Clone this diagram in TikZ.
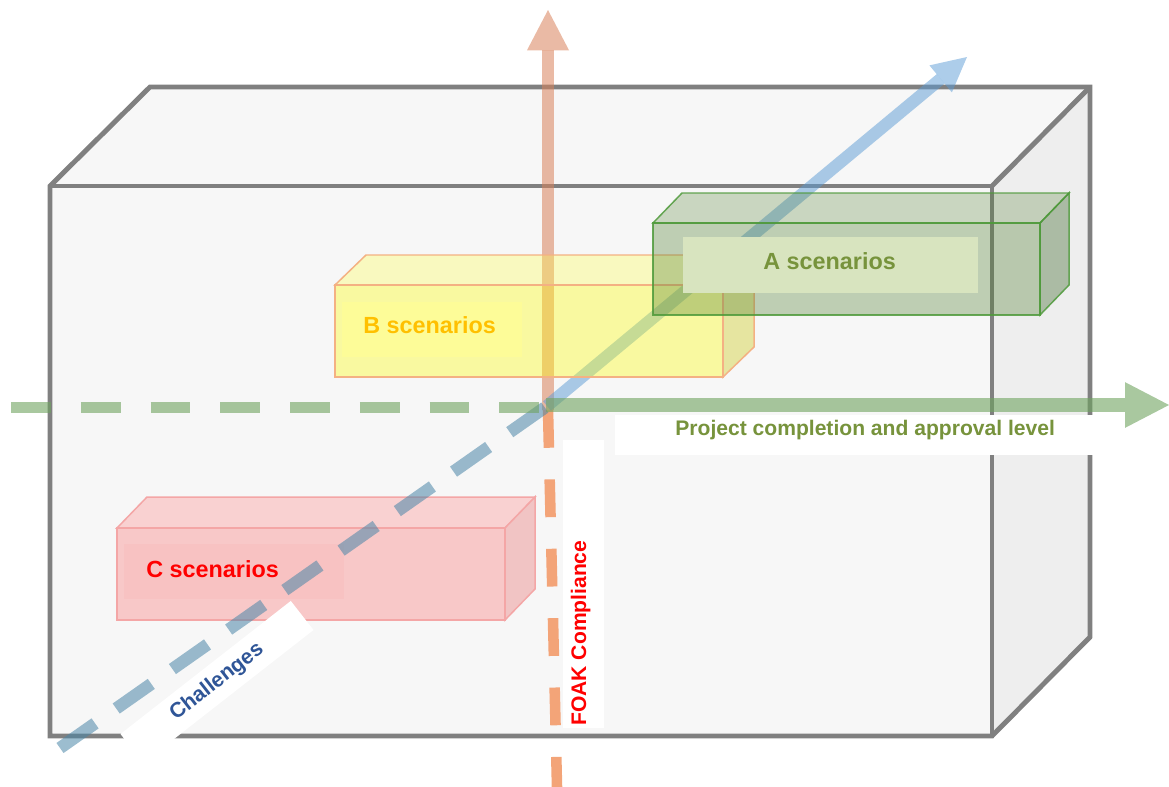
\documentclass[tikz,border=0pt]{standalone}
\usepackage{fontspec}
\setmainfont{Liberation Sans}
\usetikzlibrary{arrows.meta}
\definecolor{boxline}{HTML}{808080}
\definecolor{boxfront}{HTML}{F7F7F7}
\definecolor{boxside}{HTML}{EEEEEE}
\definecolor{orangeax}{HTML}{D9825B}
\definecolor{orangedash}{HTML}{F3A478}
\definecolor{greenax}{HTML}{6FA35F}
\definecolor{blueax}{HTML}{5B9BD5}
\definecolor{bluedash}{HTML}{4A86A8}
\definecolor{yel}{HTML}{FFFF00}
\definecolor{yelside}{HTML}{C8C400}
\definecolor{yeltop}{HTML}{FFFF40}
\definecolor{yelline}{HTML}{F4B183}
\definecolor{yellabel}{HTML}{FDFC98}
\definecolor{btext}{HTML}{FFC000}
\definecolor{grn}{HTML}{548235}
\definecolor{grnside}{HTML}{476F35}
\definecolor{grnline}{HTML}{4E9A3A}
\definecolor{grnlabel}{HTML}{D8E4BF}
\definecolor{atext}{HTML}{77933C}
\definecolor{redfront}{HTML}{F8C8C8}
\definecolor{redtop}{HTML}{F9D1D1}
\definecolor{redside}{HTML}{F1C4C4}
\definecolor{redline}{HTML}{F4A6A6}
\definecolor{redlabel}{HTML}{F8C2C2}
\definecolor{chtext}{HTML}{2F5597}
\begin{document}
\begin{tikzpicture}[x=0.02cm,y=-0.02cm,
  bigsty/.style={draw=boxline, line width=2.8pt, line join=miter},
  orangesty/.style={draw=orangeax, opacity=0.55, line width=7pt, -{Triangle[length=23pt,width=24pt,line width=0pt]}},
  orangedashsty/.style={draw=orangedash, line width=6pt, dash pattern=on 21.5pt off 18pt},
  greensty/.style={draw=greenax, opacity=0.6, line width=8.5pt, -{Triangle[length=25pt,width=26pt,line width=0pt]}},
  greendashsty/.style={draw=greenax, opacity=0.6, line width=6pt, dash pattern=on 22.7pt off 17pt},
  bluesty/.style={draw=blueax, opacity=0.5, line width=7pt, -{Triangle[length=19.5pt,width=20pt,line width=0pt]}},
  bluedashsty/.style={draw=bluedash, opacity=0.55, line width=7pt, dash pattern=on 24.4pt off 14.7pt},
  yelsty/.style={draw=yelline, line width=0.85pt, fill opacity=0.35},
  grnsty/.style={draw=grnline, draw opacity=0.85, line width=0.85pt},
  redsty/.style={draw=redline, line width=0.85pt},
  scensty/.style={font=\bfseries\fontsize{13.3pt}{16pt}\selectfont, inner sep=0pt, anchor=base west},
  axsty/.style={font=\bfseries\fontsize{12pt}{14pt}\selectfont, inner sep=0pt}]
\useasboundingbox (0,0) rectangle (1169,787);
% big box
\coordinate (F1) at (50,186); \coordinate (F2) at (992,186);
\coordinate (F3) at (992,736); \coordinate (F4) at (50,736);
\coordinate (B1) at (150,87); \coordinate (B2) at (1090,87); \coordinate (B3) at (1090,637);
\fill[boxfront] (F1) -- (B1) -- (B2) -- (F2) -- cycle;
\fill[boxside] (F2) -- (B2) -- (B3) -- (F3) -- cycle;
\fill[boxfront] (F1) rectangle (F3);
\draw[bigsty] (F1) -- (B1) -- (B2) -- (B3) -- (F3) -- (F4) -- cycle;
\draw[bigsty] (F1) -- (F2) -- (F3);
\draw[bigsty] (F2) -- (B2);
% C box
\coordinate (c1) at (117,528); \coordinate (c2) at (505,528);
\coordinate (c3) at (505,620); \coordinate (c5) at (147,497);
\coordinate (c6) at (535,497); \coordinate (c7) at (535,589);
\filldraw[redsty, fill=redtop] (c1) -- (c5) -- (c6) -- (c2) -- cycle;
\filldraw[redsty, fill=redside] (c2) -- (c6) -- (c7) -- (c3) -- cycle;
\filldraw[redsty, fill=redfront] (c1) rectangle (c3);
\fill[redlabel] (124,544) rectangle (344,599);
% axes coordinates
\coordinate (O) at (547,406);
\coordinate (zs) at (548,410);
\coordinate (ztip) at (548,10);
\coordinate (zbot) at (557,787);
\coordinate (xtip) at (1169,405);
\coordinate (xs) at (546,405);
\coordinate (xleft) at (11,407.5);
\coordinate (xmid) at (547,407.5);
\coordinate (ytip) at (967,57);
\coordinate (ybot) at (60,748);
% orange (FOAK) axis
\draw[orangesty] (zs) -- (ztip);
\draw[orangedashsty] (zs) -- (zbot);
% blue (challenges) axis
\draw[bluesty] (O) -- (ytip);
\draw[bluedashsty] (ybot) -- (O);
% B box
\coordinate (b1) at (335,285); \coordinate (b2) at (723,285);
\coordinate (b3) at (723,377); \coordinate (b5) at (366,255);
\coordinate (b6) at (754,255); \coordinate (b7) at (754,347);
\filldraw[yelsty, fill=yeltop, fill opacity=0.3] (b1) -- (b5) -- (b6) -- (b2) -- cycle;
\filldraw[yelsty, fill=yelside] (b2) -- (b6) -- (b7) -- (b3) -- cycle;
\filldraw[yelsty, fill=yel] (b1) rectangle (b3);
\fill[yellabel] (342,302) rectangle (522,357);
% A box
\coordinate (a1) at (653,223); \coordinate (a2) at (1040,223);
\coordinate (a3) at (1040,315); \coordinate (a5) at (682,193);
\coordinate (a6) at (1069,193); \coordinate (a7) at (1069,285);
\filldraw[grnsty, fill=grn, fill opacity=0.28] (a1) -- (a5) -- (a6) -- (a2) -- cycle;
\filldraw[grnsty, fill=grnside, fill opacity=0.4] (a2) -- (a6) -- (a7) -- (a3) -- cycle;
\filldraw[grnsty, fill=grn, fill opacity=0.35] (a1) rectangle (a3);
\fill[grnlabel] (683,237) rectangle (978,293);
% white label backgrounds
\fill[white] (615,415) rectangle (1094,455);
\fill[white] (563,440) rectangle (604,728);
% green (project) axis
\draw[greendashsty] (xleft) -- (xmid);
\draw[greensty] (xs) -- (xtip);
% labels
\node[scensty, text=btext] (tB) at (363,333) {B scenarios};
\node[scensty, text=atext] (tA) at (763,269) {A scenarios};
\node[scensty, text=red] (tC) at (146,577) {C scenarios};
\node[axsty, anchor=base west, text=atext] (tP) at (675,435) {Project completion and approval level};
\node[axsty, anchor=base west, rotate=90, text=red] (tF) at (586,726) {FOAK Compliance};
\node[axsty, rotate=38, fill=white, text=chtext, minimum width=123pt, minimum height=21pt] (tCh) at (217,682) {Challenges};
\end{tikzpicture}
\end{document}
